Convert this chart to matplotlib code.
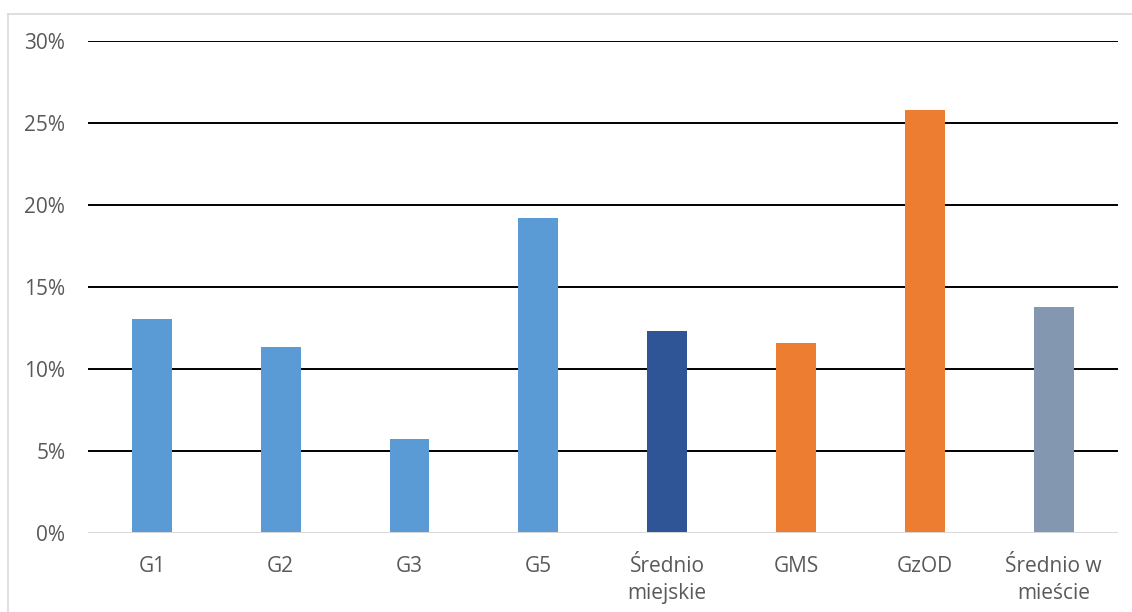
import matplotlib.pyplot as plt
from matplotlib.lines import Line2D
from matplotlib.ticker import FuncFormatter

categories = ["G1", "G2", "G3", "G5", "Średnio\nmiejskie", "GMS", "GzOD", "Średnio w\nmieście"]
values = [0.131, 0.1135, 0.0575, 0.1925, 0.1235, 0.116, 0.258, 0.138]
colors = ["#5B9BD5", "#5B9BD5", "#5B9BD5", "#5B9BD5", "#2F5597", "#ED7D31", "#ED7D31", "#8497B0"]

plt.rcParams['font.family'] = ['Open Sans', 'DejaVu Sans']

fig = plt.figure(figsize=(11.32, 6.12), dpi=100)
ax = fig.add_axes([0.0773, 0.1283, 0.9103, 0.8042])

x = range(len(categories))
ax.bar(x, values, width=0.31, color=colors, zorder=3)

ax.set_ylim(0, 0.30)
ax.set_xlim(-0.5, len(categories) - 0.5)
ax.set_yticks([0, 0.05, 0.10, 0.15, 0.20, 0.25, 0.30])
ax.yaxis.set_major_formatter(FuncFormatter(lambda v, p: f"{round(v * 100)}%"))
ax.set_xticks(list(x))
ax.set_xticklabels(categories, linespacing=1.4)

for v in [0.05, 0.10, 0.15, 0.20, 0.25, 0.30]:
    ax.axhline(v, color="black", lw=1.4, zorder=1)
ax.axhline(0, color="#D9D9D9", lw=1.4, zorder=4)

for s in ax.spines.values():
    s.set_visible(False)
ax.tick_params(axis="both", length=0, labelsize=15, labelcolor="#595959")
ax.tick_params(axis="y", pad=16)
ax.tick_params(axis="x", pad=16)

# chart frame
fig.add_artist(Line2D([7.5 / 1132, 7.5 / 1132], [0, 1 - 13.5 / 612], color="#D9D9D9", lw=1.2))
fig.add_artist(Line2D([7.5 / 1132, 1], [1 - 13.5 / 612, 1 - 13.5 / 612], color="#D9D9D9", lw=1.2))

fig.savefig("out.png", dpi=100)
